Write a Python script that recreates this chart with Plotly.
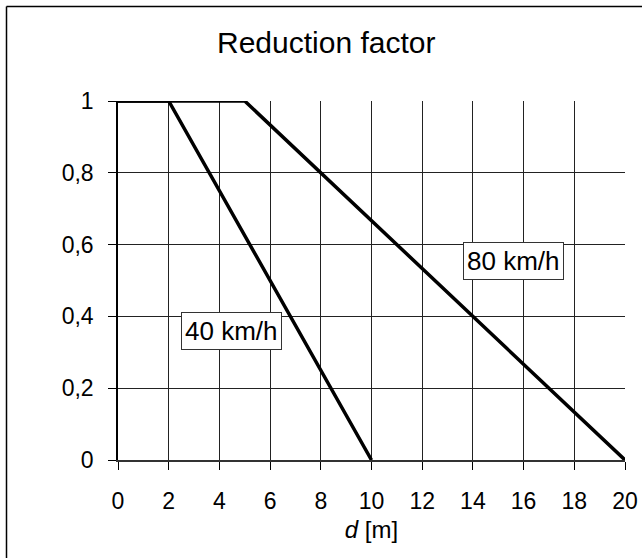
import plotly.graph_objects as go

# Data
d_40 = [0, 2, 10]
rf_40 = [1, 1, 0]
d_80 = [0, 5, 20]
rf_80 = [1, 1, 0]
label_40 = "40 km/h"
label_80 = "80 km/h"
label_40_pos = (4.46, 0.359)
label_80_pos = (15.6, 0.553)
x_ticks = list(range(0, 21, 2))
y_ticks = [0, 0.2, 0.4, 0.6, 0.8, 1]

FONT = "Liberation Sans, Arial, sans-serif"

W, H = 642, 558
L, R, T, B = 118, 17, 101, 98
PW, PH = W - L - R, H - T - B


def px(fx):
    return (fx - L) / PW


def py(fy):
    return (H - B - fy) / PH


fig = go.Figure()
fig.add_trace(go.Scatter(x=d_40, y=rf_40, mode="lines",
                         line=dict(color="black", width=3.5), showlegend=False))
fig.add_trace(go.Scatter(x=d_80, y=rf_80, mode="lines",
                         line=dict(color="black", width=3.5), showlegend=False))

for txt, (ax_, ay_) in [(label_40, label_40_pos), (label_80, label_80_pos)]:
    fig.add_annotation(x=ax_, y=ay_, xref="x", yref="y", text=txt, showarrow=False,
                       font=dict(family=FONT, size=26, color="black"),
                       bgcolor="white", bordercolor="#333", borderwidth=1, borderpad=3)

fig.add_annotation(x=px(326), y=py(42), xref="paper", yref="paper",
                   xanchor="center", yanchor="middle",
                   text="Reduction factor", showarrow=False,
                   font=dict(family=FONT, size=30, color="black"))

fig.update_layout(
    width=W, height=H,
    margin=dict(l=L, r=R, t=T, b=B, autoexpand=False),
    paper_bgcolor="white", plot_bgcolor="white",
    separators=",.",
    font=dict(family=FONT, size=23, color="black"),
    xaxis=dict(range=[0, 20], tickvals=x_ticks, ticks="outside", ticklen=8,
               tickcolor="black", showgrid=True, gridcolor="#222", gridwidth=1,
               showline=True, linecolor="#333", linewidth=1.5, zeroline=False,
               ticklabelstandoff=12,
               title=dict(text="<i>d</i> [m]", font=dict(size=24), standoff=8)),
    yaxis=dict(range=[0, 1], tickvals=y_ticks, ticks="outside", ticklen=8,
               tickcolor="black", showgrid=True, gridcolor="#222", gridwidth=1,
               showline=True, linecolor="black", linewidth=1.5, zeroline=False,
               ticklabelstandoff=10),
)

# Outer frame: left and top edges (extends past the right/bottom of the picture)
fig.add_shape(type="line", xref="paper", yref="paper",
              x0=px(6.5), x1=px(6.5), y0=py(H + 20), y1=py(6.5),
              line=dict(color="black", width=1.5), layer="above")
fig.add_shape(type="line", xref="paper", yref="paper",
              x0=px(6.5), x1=px(W + 20), y0=py(6.5), y1=py(6.5),
              line=dict(color="black", width=1.5), layer="above")

fig.write_html("out.html", config={"displayModeBar": False},
               post_script="document.body.style.margin='0';document.body.style.overflow='hidden';")
